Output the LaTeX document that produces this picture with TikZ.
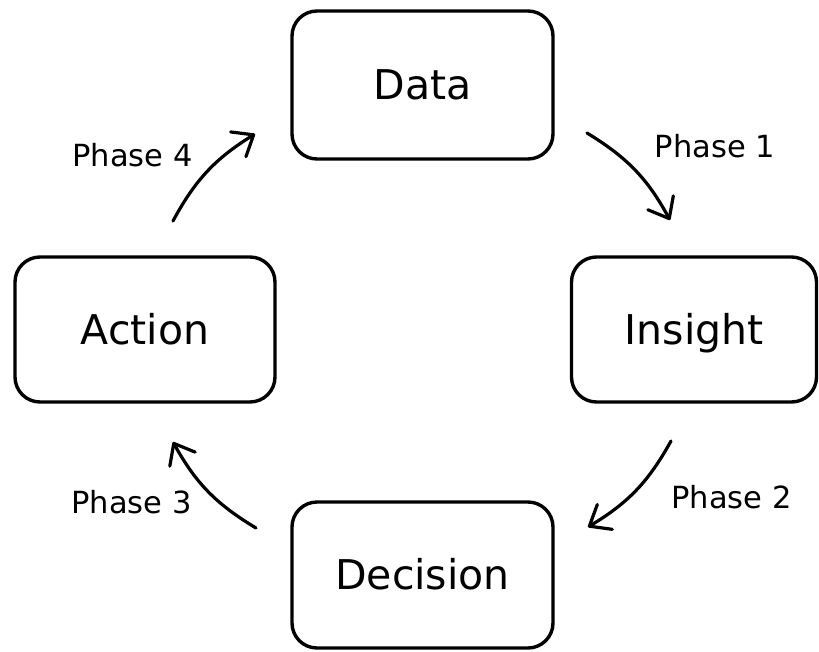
\documentclass[tikz,border=0pt]{standalone}
\usepackage{fontspec}
\setmainfont{DejaVu Sans}
\usetikzlibrary{arrows.meta}
\tikzset{
  stagebox/.style={draw=black, line width=3.4pt, rounded corners=25pt,
    inner sep=0pt, font=\fontsize{41}{41}\selectfont,
    text height=29.9pt, text depth=0pt},
  phaselabel/.style={inner sep=0pt, font=\fontsize{30.5}{30.5}\selectfont,
    text height=22.2pt, text depth=0pt},
  phasearrow/.style={line width=3.2pt, line cap=round,
    -{Straight Barb[length=18pt,width=29pt,line cap=round,line join=round]}}
}
\begin{document}
\begin{tikzpicture}[x=1pt, y=-1pt]
  \useasboundingbox (0,0) rectangle (819,651);

  % the four stages of the cycle
  \node[stagebox, minimum width=261pt, minimum height=148pt] (data)     at (422.5,85)  {Data};
  \node[stagebox, minimum width=245pt, minimum height=145pt] (insight)  at (694,329.5)  {Insight};
  \node[stagebox, minimum width=261pt, minimum height=146pt] (decision) at (422.5,575) {Decision};
  \node[stagebox, minimum width=260pt, minimum height=145pt] (action)   at (145,329.5)  {Action};

  % end points of the curved transition arrows
  \coordinate (p1s) at (587,133);
  \coordinate (p1e) at (670,220);
  \coordinate (p2s) at (671,441);
  \coordinate (p2e) at (588,527);
  \coordinate (p3s) at (256,528);
  \coordinate (p3e) at (173,442);
  \coordinate (p4s) at (173,221);
  \coordinate (p4e) at (255,134);

  \draw[phasearrow] (p1s) to[bend left=15] (p1e);
  \draw[phasearrow] (p2s) to[bend left=15] (p2e);
  \draw[phasearrow] (p3s) to[bend left=15] (p3e);
  \draw[phasearrow] (p4s) to[bend left=15] (p4e);

  % phase labels
  \node[phaselabel] (ph1) at (715,146)   {Phase 1};
  \node[phaselabel] (ph2) at (731.5,497) {Phase 2};
  \node[phaselabel] (ph3) at (131.5,502) {Phase 3};
  \node[phaselabel] (ph4) at (132.5,155) {Phase 4};
\end{tikzpicture}
\end{document}
